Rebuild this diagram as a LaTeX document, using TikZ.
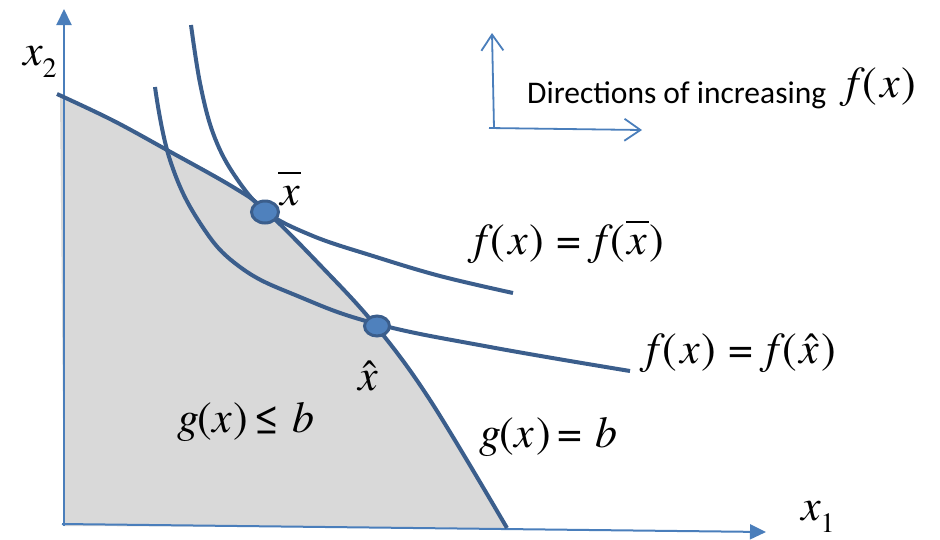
\documentclass[tikz,border=0pt]{standalone}
\usepackage{fontspec}
\IfFontExistsTF{texgyretermes-regular.otf}{%
  \newfontfamily\tnr{texgyretermes}[Extension=.otf, UprightFont=*-regular, ItalicFont=*-italic, BoldFont=*-bold]}{%
  \newfontfamily\tnr{Liberation Serif}}
\newfontfamily\carl{Carlito}
\usetikzlibrary{arrows.meta,shapes.geometric}
\definecolor{axisblue}{HTML}{4A7EBB}
\definecolor{curveblue}{HTML}{3B5E8C}
\definecolor{dotblue}{HTML}{4F81BD}
\definecolor{regiongray}{HTML}{D9D9D9}
\newcommand{\vi}[1]{{\tnr\itshape #1}}
\newcommand{\xbar}{\makebox[0pt][l]{\hspace{-0.04em}\rule[0.7em]{0.52em}{0.045em}}\vi{x}}
\newcommand{\xhat}{\makebox[0pt][l]{\hspace{0.1em}{\tnr\char"02C6}}\vi{x}}
\newcommand{\fof}[1]{\vi{f}\kern4pt(\kern3pt#1\kern2pt)}
\begin{document}
\begin{tikzpicture}[x=1pt,y=-1pt,
  lbl/.style={inner sep=0pt, anchor=base west, font=\tnr\fontsize{44}{52}\selectfont},
  axis/.style={axisblue, line width=2pt, -{Triangle[length=16pt,width=15pt]}},
  dirarrow/.style={axisblue, line width=1.8pt, -{Straight Barb[length=16pt,width=22pt]}},
  curve/.style={curveblue, line width=4pt},
  dot/.style={ellipse, draw=curveblue, fill=dotblue, line width=3pt, inner sep=0pt}]
\useasboundingbox (0,0) rectangle (940,539);
% feasible region
\fill[regiongray] plot[smooth, tension=0.6] coordinates {(57,94) (112,120) (167,150) (233,187) (265,210) (320,265) (375,325) (430,400) (507,528)} -- (64,526) -- (60,95) -- cycle;
% axes
\coordinate (O) at (64,526);
\coordinate (ytip) at (64,9);
\coordinate (xstart) at (62,524);
\coordinate (xtip) at (766,532);
\draw[axis] (O) -- (ytip);
\draw[axis] (xstart) -- (xtip);
% constraint curve g(x)=b
\draw[curve] plot[smooth, tension=0.6] coordinates {(57,94) (112,120) (167,150) (233,187) (265,210) (320,265) (375,325) (430,400) (507,528)};
% level curve f(x)=f(xbar)
\draw[curve] plot[smooth, tension=0.6] coordinates {(191,25) (200,83) (213,133) (233,173) (265,211) (313,236) (373,256) (440,276) (513,293)};
% level curve f(x)=f(xhat)
\draw[curve] plot[smooth, tension=0.7] coordinates {(155,87) (170,160) (200,223) (240,267) (300,297) (377,324) (490,347) (630,371)};
% points
\node[dot, minimum width=27pt, minimum height=22pt] (pbar) at (265,212) {};
\node[dot, minimum width=25pt, minimum height=20pt] (phat) at (377,326) {};
% direction arrows
\coordinate (dv0) at (494,128);
\coordinate (dv1) at (492,33);
\coordinate (dh0) at (489,128);
\coordinate (dh1) at (642,130);
\draw[dirarrow] (dv0) -- (dv1);
\draw[dirarrow] (dh0) -- (dh1);
% labels
\node[lbl] (lx2) at (23,65) {\vi{x}\raisebox{-12pt}{\fontsize{28}{28}\selectfont 2}};
\node[lbl] (lx1) at (801,520) {\vi{x}\raisebox{-12pt}{\fontsize{28}{28}\selectfont 1}};
\node[lbl] (lxbar) at (280,205) {\xbar};
\node[lbl] (lxhat) at (358,390) {\xhat};
\node[lbl] (lfbar) at (474,254) {\fof{\vi{x}}\hspace{12pt}=\hspace{13pt}\fof{\xbar}};
\node[lbl] (lfhat) at (646,363) {\fof{\vi{x}}\hspace{12pt}=\hspace{13pt}\fof{\xhat}};
\node[lbl] (lgle) at (177,432) {\vi{g}\kern-2pt(\kern1pt\vi{x}\kern1pt)\hspace{6pt}≤\hspace{14pt}\vi{b}};
\node[lbl] (lgeq) at (479,447) {\vi{g}\kern-2pt(\kern1pt\vi{x}\kern2pt)\hspace{6pt}=\hspace{14pt}\vi{b}};
\node[lbl, font=\carl\fontsize{31.5}{36}\selectfont] (ldir) at (527,103) {Directions of increasing};
\node[lbl] (lfx) at (846,97) {\fof{\vi{x}}};
\end{tikzpicture}
\end{document}
